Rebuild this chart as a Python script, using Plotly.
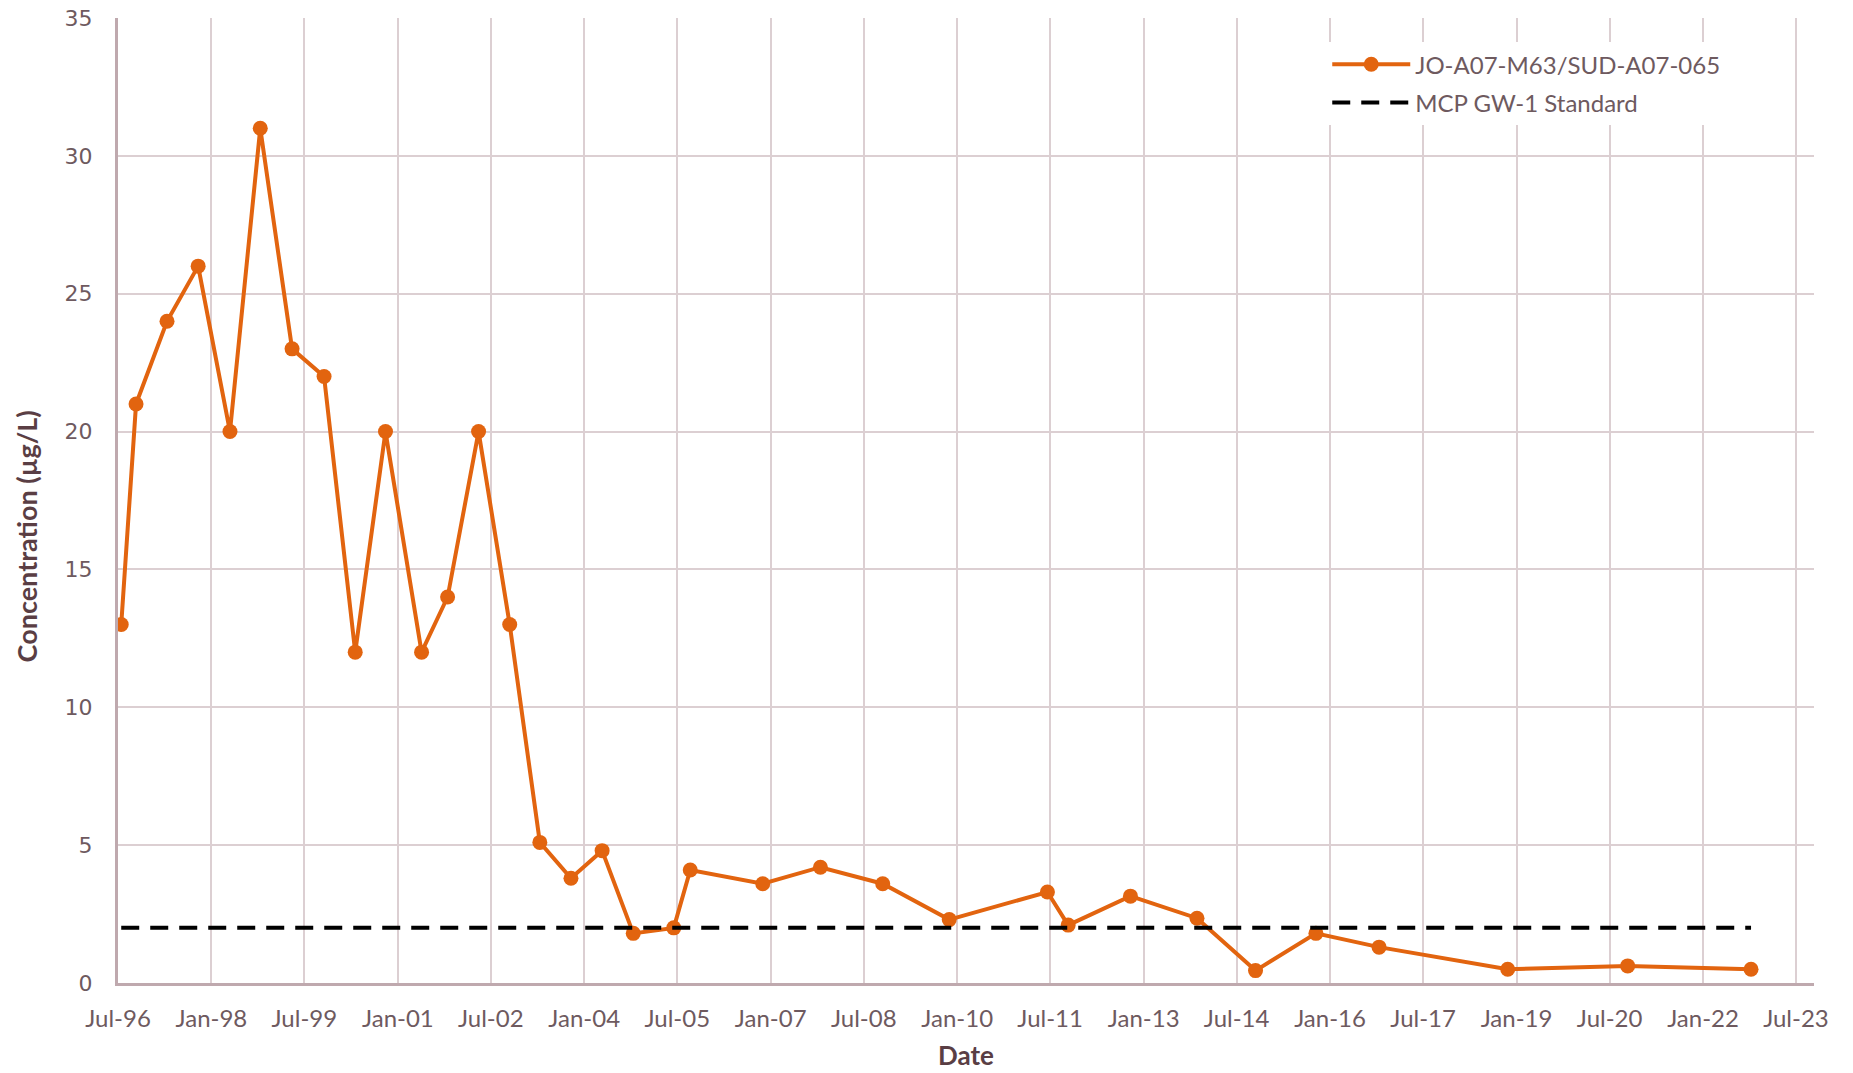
import plotly.graph_objects as go

# ---- data ----
sample_dates = [
    "1996-07-20", "1996-10-15", "1997-04-15", "1997-10-15", "1998-04-20",
    "1998-10-15", "1999-04-20", "1999-10-25", "2000-04-25", "2000-10-20",
    "2001-05-20", "2001-10-20", "2002-04-20", "2002-10-20", "2003-04-15",
    "2003-10-15", "2004-04-15", "2004-10-15", "2005-06-10", "2005-09-15",
    "2006-11-15", "2007-10-20", "2008-10-20", "2009-11-15", "2011-06-15",
    "2011-10-15", "2012-10-15", "2013-11-10", "2014-10-20", "2015-10-10",
    "2016-10-15", "2018-11-10", "2020-10-15", "2022-10-10",
]
concentration = [
    13, 21, 24, 26, 20,
    31, 23, 22, 12, 20,
    12, 14, 20, 13, 5.1,
    3.8, 4.8, 1.8, 2.0, 4.1,
    3.6, 4.2, 3.6, 2.3, 3.3,
    2.1, 3.15, 2.35, 0.45, 1.8,
    1.3, 0.5, 0.62, 0.5,
]
series_name = "JO-A07-M63/SUD-A07-065"
standard_name = "MCP GW-1 Standard"
standard_value = 2.0

x_tick_dates = [
    "1996-07-01", "1998-01-01", "1999-07-01", "2001-01-01", "2002-07-01",
    "2004-01-01", "2005-07-01", "2007-01-01", "2008-07-01", "2010-01-01",
    "2011-07-01", "2013-01-01", "2014-07-01", "2016-01-01", "2017-07-01",
    "2019-01-01", "2020-07-01", "2022-01-01", "2023-07-01",
]
x_tick_labels = [
    "Jul-96", "Jan-98", "Jul-99", "Jan-01", "Jul-02",
    "Jan-04", "Jul-05", "Jan-07", "Jul-08", "Jan-10",
    "Jul-11", "Jan-13", "Jul-14", "Jan-16", "Jul-17",
    "Jan-19", "Jul-20", "Jan-22", "Jul-23",
]
y_ticks = [0, 5, 10, 15, 20, 25, 30, 35]

# ---- styles ----
ORANGE = "#E2640F"
GRID = "#DCCFD2"
AXIS = "#BFA9AE"
TICK = "#6E5A5F"
TITLE = "#5A3E44"
FONT = "Lato"

fig = go.Figure()
fig.add_trace(go.Scatter(
    x=sample_dates, y=concentration, mode="lines+markers", name=series_name,
    legendgroup="a",
    line=dict(color=ORANGE, width=4),
    marker=dict(size=15, color=ORANGE),
))
fig.add_trace(go.Scatter(
    x=[sample_dates[0], sample_dates[-1]], y=[standard_value, standard_value],
    mode="lines", name=standard_name, legendgroup="b",
    line=dict(color="black", width=4, dash="18px,11px"),
))

fig.update_layout(
    width=1853, height=1073,
    margin=dict(l=118, r=39, t=18, b=90),
    paper_bgcolor="white", plot_bgcolor="white",
    font=dict(family=FONT, color=TICK),
    showlegend=True,
    legend=dict(
        x=0.713, y=0.975, xanchor="left", yanchor="top",
        bgcolor="white", borderwidth=0,
        font=dict(family=FONT, size=24, color=TICK),
        tracegroupgap=4, itemwidth=78,
    ),
    xaxis=dict(
        type="date", automargin=False,
        range=["1996-07-01", "2023-10-15"],
        tickmode="array", tickvals=x_tick_dates, ticktext=x_tick_labels,
        showgrid=True, gridcolor=GRID, gridwidth=2,
        showline=True, linecolor=AXIS, linewidth=3,
        ticks="", tickfont=dict(family=FONT, size=24, color=TICK),
        ticklabelstandoff=12,
        zeroline=False,
    ),
    yaxis=dict(
        range=[0, 35], automargin=False,
        tickmode="array", tickvals=y_ticks,
        showgrid=True, gridcolor=GRID, gridwidth=2,
        showline=True, linecolor=AXIS, linewidth=3,
        ticks="", tickfont=dict(family="DejaVu Sans", size=22, color=TICK),
        ticklabelstandoff=18,
        zeroline=False,
    ),
    annotations=[
        dict(
            text="<b>Concentration (µg/L)</b>", textangle=-90,
            xref="paper", yref="y", x=-0.0542, y=16.2, xanchor="center", yanchor="middle",
            showarrow=False, font=dict(family=FONT, size=27, color=TITLE),
        ),
        dict(
            text="<b>Date</b>",
            xref="paper", yref="paper", x=0.5, y=-0.0746, xanchor="center", yanchor="middle",
            showarrow=False, font=dict(family=FONT, size=26, color=TITLE),
        ),
    ],
)

fig.write_html(
    "out.html",
    config={"displayModeBar": False},
    post_script="document.body.style.margin='0';document.body.style.overflow='hidden';",
)
